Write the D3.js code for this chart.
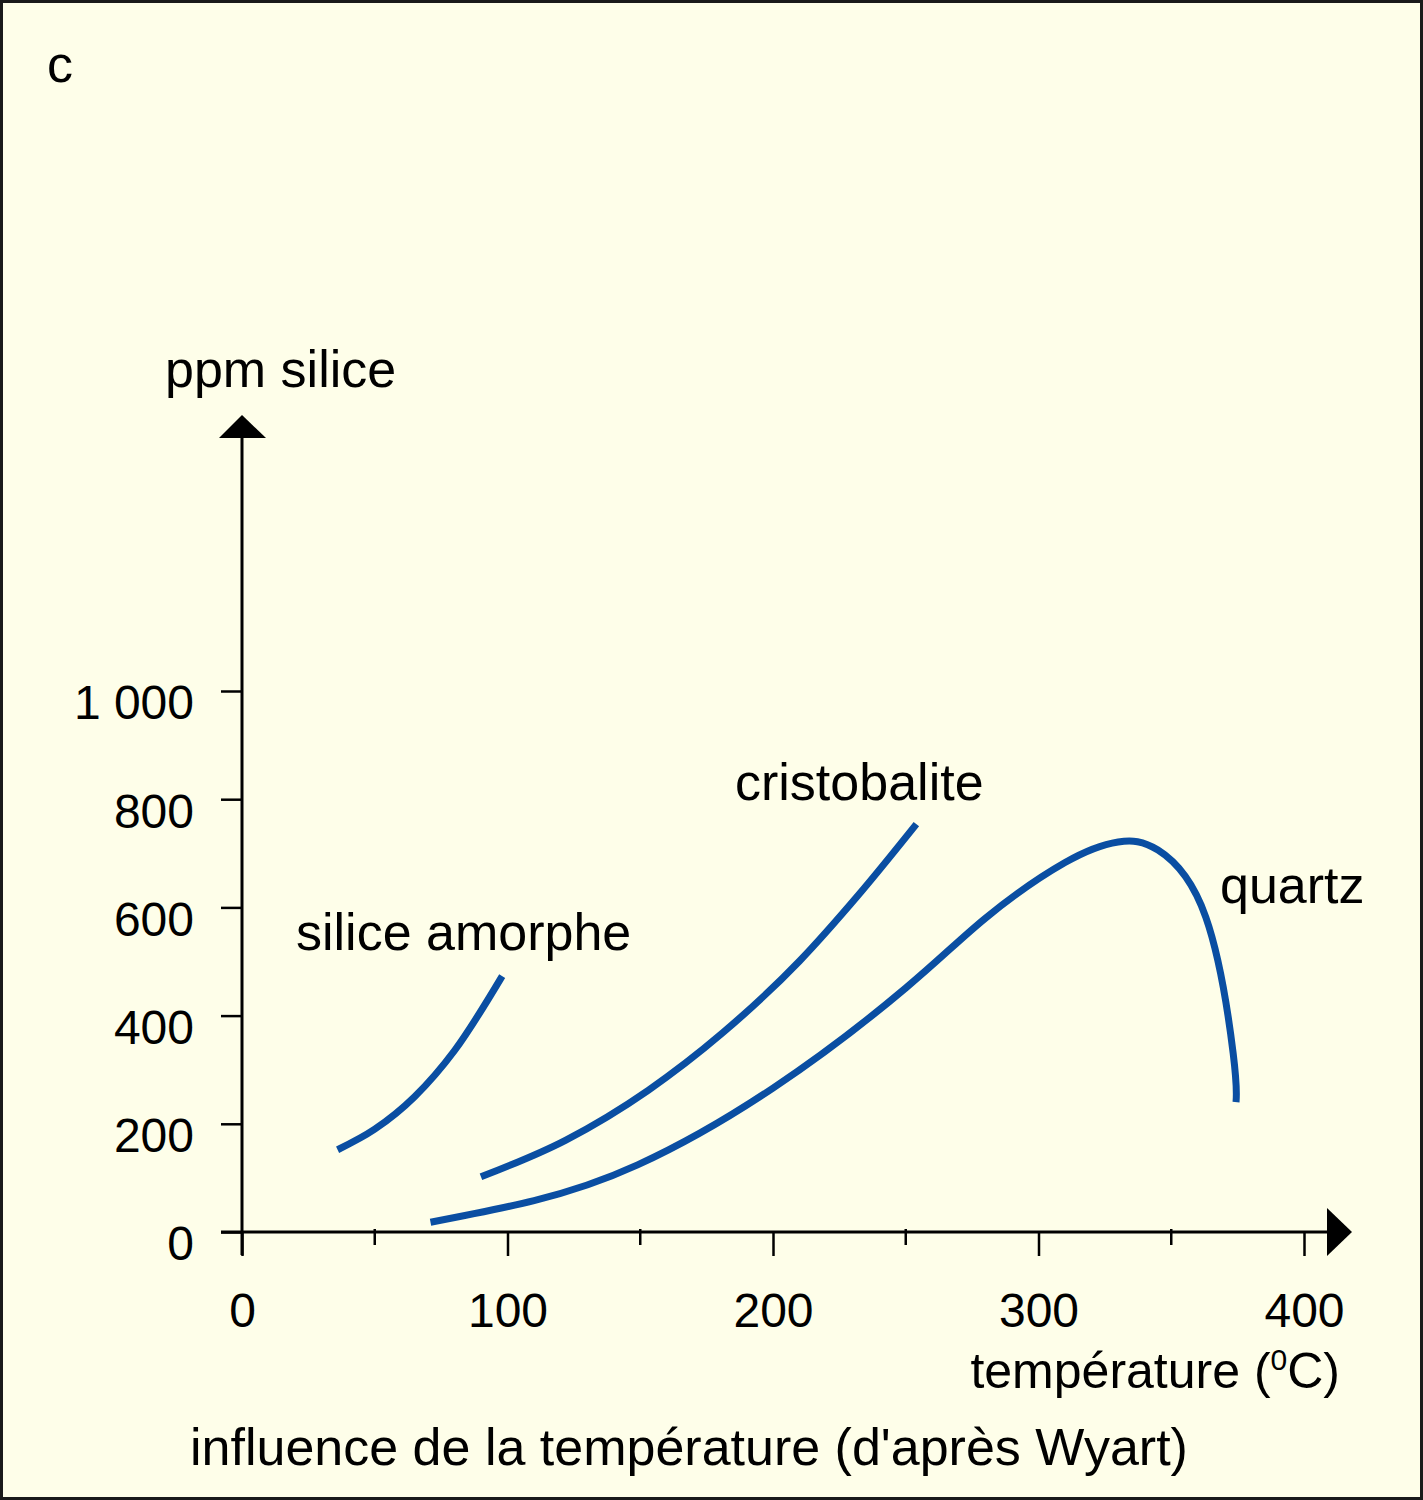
<!DOCTYPE html>
<html>
<head>
<meta charset="utf-8">
<script src="https://cdn.jsdelivr.net/npm/d3@7"></script>
<style>
  html, body { margin: 0; padding: 0; background: #fefee9; }
  svg { display: block; }
  text { font-family: "Liberation Sans", Arial, Helvetica, sans-serif; fill: #000; }
</style>
</head>
<body>
<svg id="chart" width="1423" height="1500"></svg>
<script>
// ---- data (temperature °C, ppm silice) ----
const xTicks = [0, 100, 200, 300, 400];
const xMinorTicks = [50, 150, 250, 350];
const yTicks = [0, 200, 400, 600, 800, 1000];

const amorpheT   = [36, 50, 65, 80, 98];
const amorpheP   = [152, 190, 250, 335, 473];

const cristoT    = [90, 122, 153, 181, 210, 232, 254];
const cristoP    = [102, 170, 262, 368, 501, 622, 754];

const quartzT    = [71, 110, 149, 200, 250, 280, 310, 330, 345, 363, 373.3, 374.4];
const quartzP    = [18, 58, 124, 266, 451, 580, 683, 721, 706, 582, 331, 240];

const seriesLabels = ["silice amorphe", "cristobalite", "quartz"];

// ---- drawing ----
const W = 1423, H = 1500;
const svg = d3.select("#chart");
const blue = "#0a4ea2";

svg.append("rect").attr("x", 1.5).attr("y", 1.5).attr("width", W - 3).attr("height", H - 3)
  .attr("fill", "#fefee9").attr("stroke", "#1a1a1a").attr("stroke-width", 3);

const x = d3.scaleLinear().domain([0, 400]).range([242, 1304]);
const y = d3.scaleLinear().domain([0, 1000]).range([1232, 691]);

// y axis
const yAxis = d3.axisLeft(y).tickValues(yTicks).tickSize(21).tickPadding(48)
  .tickFormat(d => d3.format(",")(d).replace(",", " "));
const gy = svg.append("g").attr("transform", "translate(242,0)").call(yAxis);
gy.select(".domain").remove();
gy.selectAll(".tick line").attr("stroke", "#000").attr("stroke-width", 2.5);
gy.selectAll(".tick text").attr("font-size", 48).attr("x", -48).attr("dy", "0.58em")
  .attr("font-family", "Liberation Sans, Arial, sans-serif").attr("fill", "#000");

// x axis
const xAxis = d3.axisBottom(x).tickValues(xTicks).tickSize(24).tickPadding(36).tickFormat(d3.format("d"));
const gx = svg.append("g").attr("transform", "translate(0,1232)").call(xAxis);
gx.select(".domain").remove();
gx.selectAll(".tick line").attr("stroke", "#000").attr("stroke-width", 2.5);
gx.selectAll(".tick text").attr("font-size", 48).attr("dy", "0.72em").attr("dx", 0)
  .attr("font-family", "Liberation Sans, Arial, sans-serif").attr("fill", "#000");

// minor ticks
svg.append("g").selectAll("line").data(xMinorTicks).join("line")
  .attr("x1", d => x(d)).attr("x2", d => x(d))
  .attr("y1", 1229).attr("y2", 1245)
  .attr("stroke", "#000").attr("stroke-width", 2.5);

// axis lines
svg.append("line").attr("x1", 242).attr("x2", 242).attr("y1", 436).attr("y2", 1255)
  .attr("stroke", "#000").attr("stroke-width", 3);
svg.append("line").attr("x1", 221).attr("x2", 1330).attr("y1", 1232).attr("y2", 1232)
  .attr("stroke", "#000").attr("stroke-width", 3);

// arrows
svg.append("path").attr("d", "M242,415 L219,438 L266,438 Z").attr("fill", "#000");
svg.append("path").attr("d", "M1352,1232 L1327,1208 L1327,1256 Z").attr("fill", "#000");

// curves
const monoLine = d3.line().x(d => x(d[0])).y(d => y(d[1])).curve(d3.curveMonotoneX);
const natLine = d3.line().x(d => x(d[0])).y(d => y(d[1])).curve(d3.curveNatural);
const series = [
  { pts: d3.zip(amorpheT, amorpheP), gen: monoLine },
  { pts: d3.zip(cristoT, cristoP), gen: monoLine },
  { pts: d3.zip(quartzT, quartzP), gen: natLine }
];
svg.append("g").selectAll("path").data(series).join("path")
  .attr("d", d => d.gen(d.pts)).attr("fill", "none").attr("stroke", blue).attr("stroke-width", 7)
  .attr("stroke-linecap", "butt");

// labels
const fs = 52;
function label(txt, xx, yy, anchor) {
  return svg.append("text").attr("x", xx).attr("y", yy).attr("font-size", fs)
    .attr("text-anchor", anchor || "start").text(txt);
}
label("c", 47, 82);
label("ppm silice", 165, 387);
label(seriesLabels[0], 296, 950);
label(seriesLabels[1], 735, 800);
label(seriesLabels[2], 1220, 903);

const tl = svg.append("text").attr("x", 1340).attr("y", 1388).attr("font-size", 50).attr("text-anchor", "end");
tl.append("tspan").text("température (");
tl.append("tspan").attr("font-size", 30).attr("dy", -18).text("0");
tl.append("tspan").attr("dy", 18).text("C)");

label("influence de la température (d'après Wyart)", 190, 1465);
</script>
</body>
</html>
